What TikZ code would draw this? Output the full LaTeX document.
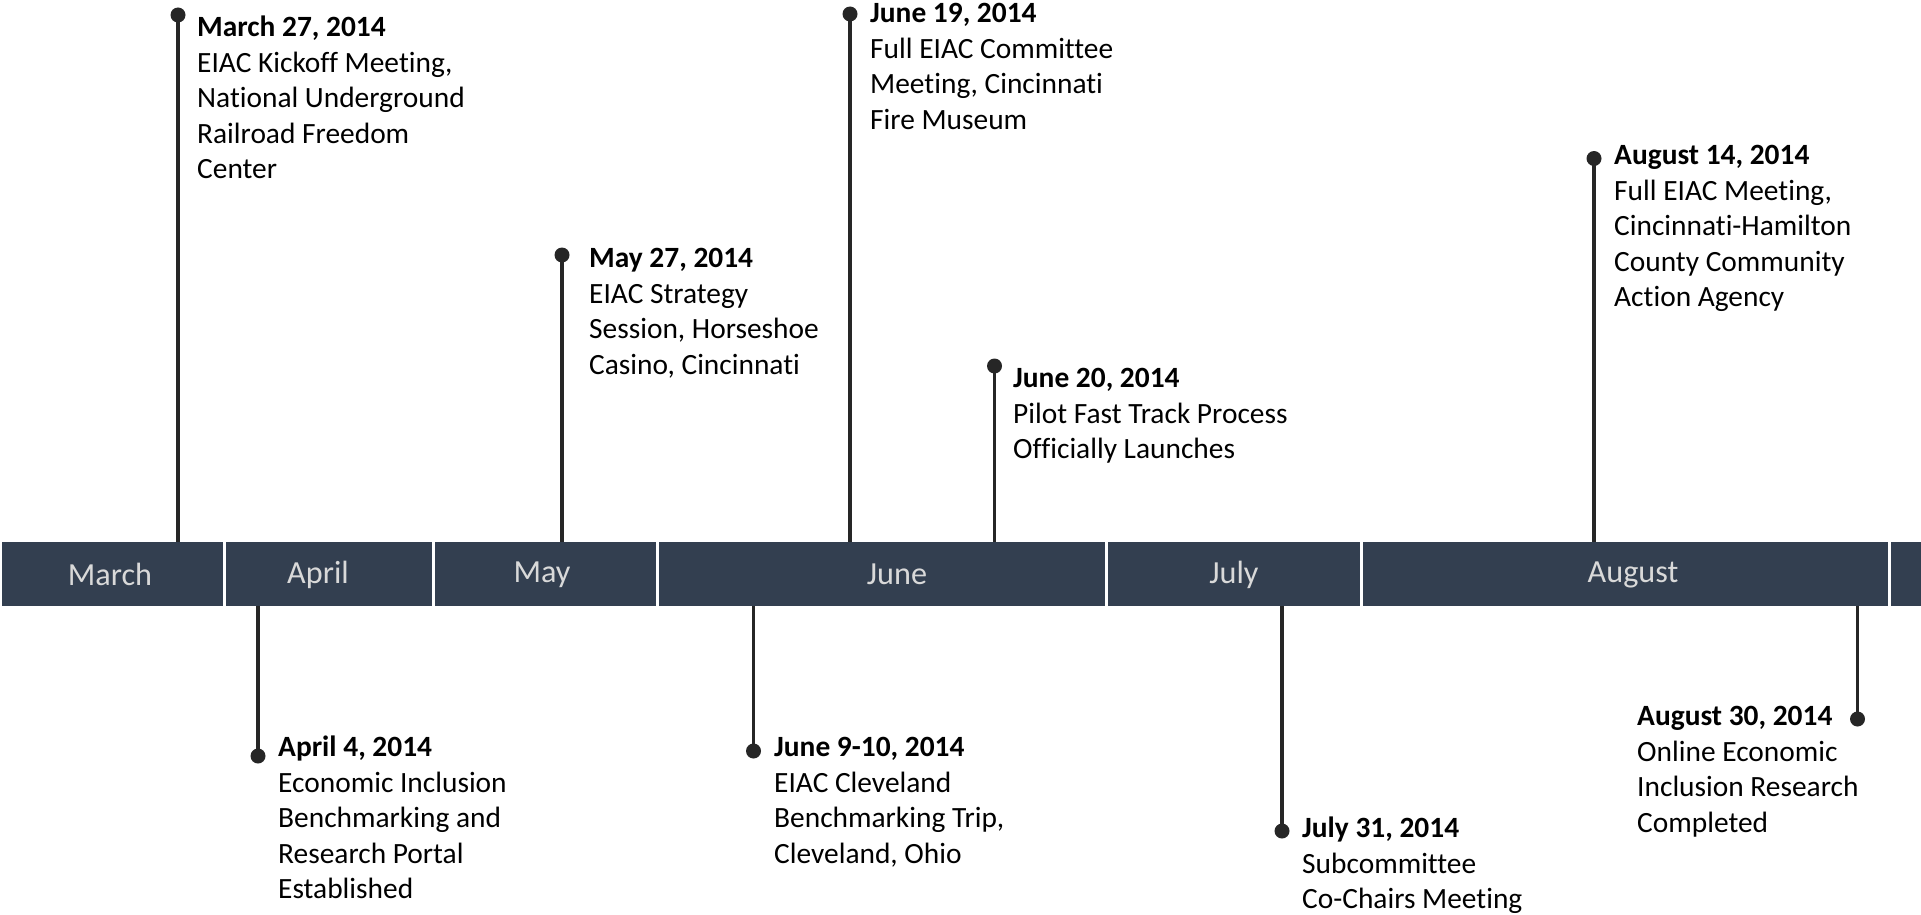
\documentclass[tikz,border=0pt]{standalone}
\usepackage{fontspec}
\setmainfont{Carlito}[Ligatures={NoCommon,NoRare}]
\definecolor{barcol}{HTML}{333F50}
\definecolor{monthcol}{HTML}{D9D9D9}
\definecolor{stemcol}{HTML}{262626}
\begin{document}
\begin{tikzpicture}[x=1pt,y=-1pt,
  seg/.style={fill=barcol,draw=none,inner sep=0pt,minimum height=64pt,anchor=west},
  month/.style={text=monthcol,font=\fontsize{32.2}{36}\selectfont,inner sep=0pt},
  dot/.style={circle,fill=stemcol,draw=none,inner sep=0pt,minimum size=15pt},
  stem/.style={draw=stemcol,line width=3.2pt},
  evt/.style={anchor=north west,align=left,inner sep=0pt,text=black,font=\fontsize{29.4}{35.4}\selectfont}]
\useasboundingbox (0,0) rectangle (1921,915);
% bar segments
\node[seg,minimum width=220.5pt] (mar) at (2,574) {};
\node[seg,minimum width=206pt] (apr) at (225.5,574) {};
\node[seg,minimum width=221pt] (may) at (434.5,574) {};
\node[seg,minimum width=445.5pt] (jun) at (659,574) {};
\node[seg,minimum width=252pt] (jul) at (1107.5,574) {};
\node[seg,minimum width=525pt] (aug) at (1362.5,574) {};
\node[seg,minimum width=31pt] (sep) at (1890.5,574) {};
% month labels
\node[month] (lmar) at (110,574.5) {March};
\node[month] (lapr) at (318,574.5) {April};
\node[month] (lmay) at (542,574.5) {May};
\node[month] (ljun) at (897,574.5) {June};
\node[month] (ljul) at (1234,574.5) {July};
\node[month] (laug) at (1633,574.5) {August};
% dots
\node[dot] (d1) at (178,15) {};
\node[dot] (d2) at (258,756) {};
\node[dot] (d3) at (562,255) {};
\node[dot] (d4) at (753.5,751) {};
\node[dot] (d5) at (850,14) {};
\node[dot] (d6) at (994.5,366) {};
\node[dot] (d7) at (1282,831) {};
\node[dot] (d8) at (1594,158.5) {};
\node[dot] (d9) at (1857.5,719) {};
% stems
\draw[stem] (d1.center) -- (d1 |- mar.north);
\draw[stem] (d2.center) -- (d2 |- apr.south);
\draw[stem] (d3.center) -- (d3 |- may.north);
\draw[stem] (d4.center) -- (d4 |- jun.south);
\draw[stem] (d5.center) -- (d5 |- jun.north);
\draw[stem] (d6.center) -- (d6 |- jun.north);
\draw[stem] (d7.center) -- (d7 |- jul.south);
\draw[stem] (d8.center) -- (d8 |- aug.north);
\draw[stem] (d9.center) -- (d9 |- aug.south);
% event texts
\node[evt] (t1) at (197,12) {\strut\textbf{March 27, 2014}\\EIAC Kickoff Meeting,\\National Underground\\Railroad Freedom\\Center};
\node[evt] (t2) at (278,732) {\strut\textbf{April 4, 2014}\\Economic Inclusion\\Benchmarking and\\Research Portal\\Established};
\node[evt] (t3) at (589,243) {\strut\textbf{May 27, 2014}\\EIAC Strategy\\Session, Horseshoe\\Casino, Cincinnati};
\node[evt] (t4) at (774,732) {\strut\textbf{June 9-10, 2014}\\EIAC Cleveland\\Benchmarking Trip,\\Cleveland, Ohio};
\node[evt] (t5) at (870,-2) {\strut\textbf{June 19, 2014}\\Full EIAC Committee\\Meeting, Cincinnati\\Fire Museum};
\node[evt] (t6) at (1013,363) {\strut\textbf{June 20, 2014}\\Pilot Fast Track Process\\Officially Launches};
\node[evt] (t7) at (1302,813) {\strut\textbf{July 31, 2014}\\Subcommittee\\Co-Chairs Meeting};
\node[evt] (t8) at (1614,140) {\strut\textbf{August 14, 2014}\\Full EIAC Meeting,\\Cincinnati-Hamilton\\County Community\\Action Agency};
\node[evt] (t9) at (1637,701) {\strut\textbf{August 30, 2014}\\Online Economic\\Inclusion Research\\Completed};
\end{tikzpicture}
\end{document}
